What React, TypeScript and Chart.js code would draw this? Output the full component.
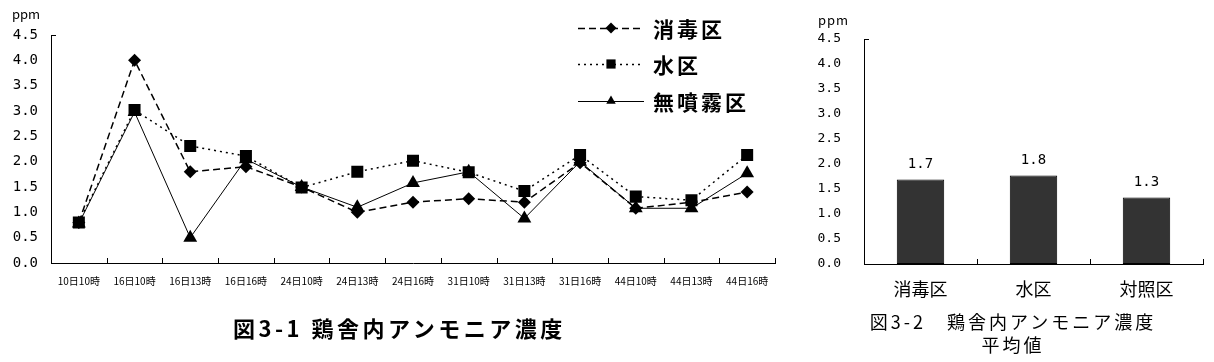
import React, { useEffect, useRef } from "react";
import { Chart, registerables } from "chart.js";

Chart.register(...registerables);

const categories = ["10日10時", "16日10時", "16日13時", "16日16時", "24日10時", "24日13時", "24日16時", "31日10時", "31日13時", "31日16時", "44日10時", "44日13時", "44日16時"];
const disinfect = [0.8, 4.0, 1.8, 1.9, 1.5, 1.0, 1.2, 1.27, 1.2, 1.98, 1.08, 1.2, 1.4];
const water = [0.8, 3.02, 2.31, 2.11, 1.49, 1.8, 2.02, 1.79, 1.42, 2.13, 1.31, 1.24, 2.13];
const noSpray = [0.78, 2.98, 0.5, 2.05, 1.5, 1.1, 1.58, 1.8, 0.88, 2.0, 1.08, 1.08, 1.77];
const seriesNames = ["消毒区", "水区", "無噴霧区"];

const barCategories = ["消毒区", "水区", "対照区"];
const barValues = [1.69, 1.77, 1.33];

const yTickMax = 4.5;
const yTickStep = 0.5;

const FONT = "'Noto Sans CJK JP', 'Noto Sans', sans-serif";
const MONO = "'DejaVu Sans Mono', monospace";

function drawMarker(ctx: CanvasRenderingContext2D, style: string, x: number, y: number, r: number) {
  ctx.beginPath();
  if (style === "rectRot") {
    ctx.moveTo(x, y - r);
    ctx.lineTo(x + r, y);
    ctx.lineTo(x, y + r);
    ctx.lineTo(x - r, y);
  } else if (style === "rect") {
    const s = r * Math.SQRT1_2;
    ctx.rect(x - s, y - s, 2 * s, 2 * s);
  } else {
    const w = (r * Math.sqrt(3)) / 2;
    ctx.moveTo(x, y - r);
    ctx.lineTo(x + w, y + r / 2);
    ctx.lineTo(x - w, y + r / 2);
  }
  ctx.closePath();
  ctx.fill();
}

const inwardTicks = {
  id: "inwardTicks",
  afterDraw(chart: any) {
    const { ctx, chartArea } = chart;
    const xs = chart.scales.x;
    const n = xs.ticks.length;
    ctx.save();
    ctx.strokeStyle = "#000";
    ctx.lineWidth = 1;
    ctx.beginPath();
    for (let k = 1; k <= n; k++) {
      const px = Math.round(xs.left + ((xs.right - xs.left) * k) / n) + 0.5;
      ctx.moveTo(px, chartArea.bottom);
      ctx.lineTo(px, chartArea.bottom - 5);
    }
    const ty = Math.round(chart.scales.y.getPixelForValue(yTickMax)) + 0.5;
    ctx.moveTo(chartArea.left, ty);
    ctx.lineTo(chartArea.left + 5, ty);
    ctx.stroke();
    ctx.restore();
  },
};

const customLegend = {
  id: "customLegend",
  afterDraw(chart: any) {
    const { ctx } = chart;
    const x0 = 578;
    const x1 = 644;
    const rows = [28, 64, 101];
    ctx.save();
    chart.data.datasets.forEach((ds: any, i: number) => {
      const y = rows[i];
      ctx.strokeStyle = "#000";
      ctx.fillStyle = "#000";
      ctx.lineWidth = ds.borderWidth;
      ctx.setLineDash(ds.borderDash || []);
      ctx.beginPath();
      ctx.moveTo(x0, y + 0.5);
      ctx.lineTo(x1, y + 0.5);
      ctx.stroke();
      ctx.setLineDash([]);
      drawMarker(ctx, ds.pointStyle, (x0 + x1) / 2, y, ds.pointStyle === "rect" ? 6.5 : 5.5);
      ctx.font = `bold 21px ${FONT}`;
      (ctx as any).letterSpacing = "3px";
      ctx.textBaseline = "middle";
      ctx.textAlign = "left";
      ctx.fillText(ds.label, x1 + 9, y + 1);
    });
    ctx.restore();
  },
};

const barLabels = {
  id: "barLabels",
  afterDatasetsDraw(chart: any) {
    const { ctx } = chart;
    const meta = chart.getDatasetMeta(0);
    ctx.save();
    ctx.font = `14px ${MONO}`;
    ctx.fillStyle = "#000";
    ctx.textAlign = "center";
    ctx.textBaseline = "middle";
    meta.data.forEach((el: any, i: number) => {
      ctx.fillText(barValues[i].toFixed(1), el.x, el.y - 15);
    });
    ctx.restore();
  },
};

function LineChart() {
  const ref = useRef<HTMLCanvasElement>(null);
  useEffect(() => {
    const chart = new Chart(ref.current!, {
      type: "line",
      data: {
        labels: categories,
        datasets: [
          { label: seriesNames[0], data: disinfect, borderColor: "#000", backgroundColor: "#000", borderWidth: 1.5, borderDash: [7, 4], pointStyle: "rectRot", pointRadius: 6.5, pointBorderWidth: 0, tension: 0 },
          { label: seriesNames[1], data: water, borderColor: "#000", backgroundColor: "#000", borderWidth: 1.5, borderDash: [2, 4], pointStyle: "rect", pointRadius: 8.5, pointBorderWidth: 0, tension: 0 },
          { label: seriesNames[2], data: noSpray, borderColor: "#000", backgroundColor: "#000", borderWidth: 1, borderDash: [], pointStyle: "triangle", pointRadius: 8, pointBorderWidth: 0, tension: 0 },
        ] as any,
      },
      options: {
        responsive: false,
        animation: false,
        devicePixelRatio: 1,
        layout: { padding: { left: 0, right: 15, top: 35, bottom: 0 } },
        plugins: { legend: { display: false }, tooltip: { enabled: false }, title: { display: false } },
        scales: {
          x: {
            offset: true,
            grid: { display: false, drawTicks: false, offset: true },
            border: { display: true, color: "#000", width: 1 },
            ticks: { color: "#000", font: { family: FONT, size: 10 }, padding: 12, autoSkip: false, maxRotation: 0 },
            afterFit: (s: any) => { s.height = 99; },
          },
          y: {
            min: 0,
            max: yTickMax,
            grid: { display: false, drawTicks: false },
            border: { display: true, color: "#000", width: 1 },
            ticks: { stepSize: yTickStep, color: "#000", font: { family: MONO, size: 14 }, padding: 13, callback: (v: any) => Number(v).toFixed(1) },
            afterFit: (s: any) => { s.width = 51; },
          },
        },
      } as any,
      plugins: [inwardTicks, customLegend],
    });
    return () => chart.destroy();
  }, []);
  return <canvas ref={ref} width={790} height={362} style={{ position: "absolute", left: 0, top: 0 }} />;
}

function BarChart() {
  const ref = useRef<HTMLCanvasElement>(null);
  useEffect(() => {
    const chart = new Chart(ref.current!, {
      type: "bar",
      data: {
        labels: barCategories,
        datasets: [
          { label: "平均値", data: barValues, backgroundColor: "#333333", borderColor: "#000", borderWidth: 1, borderSkipped: false, categoryPercentage: 1, barPercentage: 0.42 },
        ],
      },
      options: {
        responsive: false,
        animation: false,
        devicePixelRatio: 1,
        layout: { padding: { left: 0, right: 11, top: 39, bottom: 0 } },
        plugins: { legend: { display: false }, tooltip: { enabled: false } },
        scales: {
          x: {
            grid: { display: false, drawTicks: false },
            border: { display: true, color: "#000", width: 1 },
            ticks: { color: "#000", font: { family: FONT, size: 18 }, padding: 14 },
            afterFit: (s: any) => { s.height = 98; },
          },
          y: {
            min: 0,
            max: yTickMax,
            grid: { display: false, drawTicks: false },
            border: { display: true, color: "#000", width: 1 },
            ticks: { stepSize: yTickStep, color: "#000", font: { family: MONO, size: 13 }, padding: 23, callback: (v: any) => Number(v).toFixed(1) },
            afterFit: (s: any) => { s.width = 74; },
          },
        },
      } as any,
      plugins: [inwardTicks, barLabels],
    });
    return () => chart.destroy();
  }, []);
  return <canvas ref={ref} width={424} height={362} style={{ position: "absolute", left: 790, top: 0 }} />;
}

export default function App() {
  const text: React.CSSProperties = { position: "absolute", fontFamily: FONT, color: "#000", whiteSpace: "nowrap", lineHeight: "24px" };
  return (
    <div style={{ position: "absolute", left: 0, top: 0, width: 1214, height: 362, background: "#fff", overflow: "hidden" }}>
      <LineChart />
      <BarChart />
      <div style={{ ...text, left: 12, top: 2, fontSize: 13 }}>ppm</div>
      <div style={{ ...text, left: 818, top: 8, fontSize: 13, letterSpacing: "1px" }}>ppm</div>
      <div style={{ ...text, left: 233, top: 315, fontSize: 22, fontWeight: "bold", letterSpacing: "3.5px" }}>図3-1 鶏舎内アンモニア濃度</div>
      <div style={{ ...text, left: 813, width: 400, top: 309, fontSize: 18, letterSpacing: "3px", textAlign: "center" }}>図3-2　鶏舎内アンモニア濃度</div>
      <div style={{ ...text, left: 813, width: 400, top: 332, fontSize: 18, letterSpacing: "3px", textAlign: "center" }}>平均値</div>
    </div>
  );
}
